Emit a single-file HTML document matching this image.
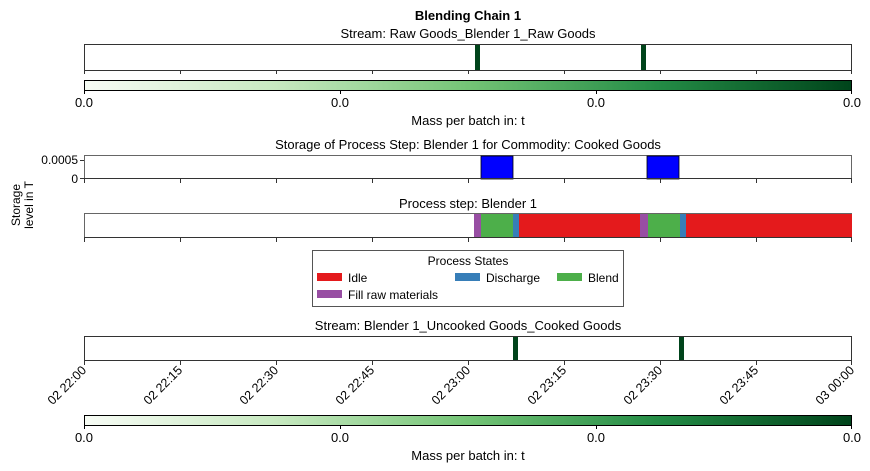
<!DOCTYPE html>
<html><head><meta charset="utf-8"><style>body{margin:0;background:#fff}svg{display:block;font-family:"Liberation Sans",Arial,sans-serif}</style></head><body>
<svg width="870" height="471" viewBox="0 0 870 471" xmlns="http://www.w3.org/2000/svg">
<defs><linearGradient id="g" x1="0" x2="1"><stop offset="0" stop-color="#f7fcf5"/><stop offset="0.25" stop-color="#c7e9c0"/><stop offset="0.5" stop-color="#74c476"/><stop offset="0.75" stop-color="#238b45"/><stop offset="1" stop-color="#00441b"/></linearGradient></defs>
<text x="468" y="20" font-size="13" font-weight="bold" text-anchor="middle">Blending Chain 1</text>
<text x="468" y="38" font-size="13" text-anchor="middle">Stream: Raw Goods_Blender 1_Raw Goods</text>
<rect x="84.5" y="44.5" width="767" height="26" fill="#fff" stroke="#333"/>
<rect x="475" y="45" width="5" height="25" fill="#00441b"/><rect x="641" y="45" width="5" height="25" fill="#00441b"/>
<rect x="84.5" y="80.5" width="767" height="10" fill="url(#g)" stroke="#000"/>
<g stroke="#000"><line x1="84.5" y1="90" x2="84.5" y2="94"/><line x1="340.5" y1="90" x2="340.5" y2="94"/><line x1="596.5" y1="90" x2="596.5" y2="94"/><line x1="851.5" y1="90" x2="851.5" y2="94"/></g>
<g font-size="13" text-anchor="middle"><text x="84" y="107">0.0</text><text x="340" y="107">0.0</text><text x="596" y="107">0.0</text><text x="852" y="107">0.0</text><text x="468" y="125">Mass per batch in: t</text></g>
<text x="468" y="149" font-size="13" text-anchor="middle">Storage of Process Step: Blender 1 for Commodity: Cooked Goods</text>
<rect x="84.5" y="155.5" width="767" height="23" fill="#fff" stroke="#666"/>
<rect x="481" y="156" width="32" height="23" fill="#0000ff" stroke="#000" stroke-width="0.8"/><rect x="647" y="156" width="32" height="23" fill="#0000ff" stroke="#000" stroke-width="0.8"/>
<line x1="84" y1="178.5" x2="852" y2="178.5" stroke="#333"/>
<g stroke="#333"><line x1="80" y1="160.5" x2="84" y2="160.5"/><line x1="80" y1="178.5" x2="84" y2="178.5"/></g>
<g font-size="12" text-anchor="end"><text x="78" y="164">0.0005</text><text x="78" y="183">0</text></g>
<g font-size="12" text-anchor="middle" transform="translate(20,205) rotate(-90)"><text x="0" y="0">Storage</text><text x="0" y="13">level in T</text></g>
<text x="468" y="208" font-size="13" text-anchor="middle">Process step: Blender 1</text>
<rect x="84.5" y="213.5" width="767" height="24" fill="#fff" stroke="#666"/>
<rect x="474" y="214" width="7" height="24" fill="#984ea3"/><rect x="481" y="214" width="32" height="24" fill="#4daf4a"/><rect x="513" y="214" width="6" height="24" fill="#377eb8"/><rect x="519" y="214" width="121" height="24" fill="#e41a1c"/>
<rect x="640" y="214" width="8" height="24" fill="#984ea3"/><rect x="648" y="214" width="32" height="24" fill="#4daf4a"/><rect x="680" y="214" width="6" height="24" fill="#377eb8"/><rect x="686" y="214" width="166" height="24" fill="#e41a1c"/>
<line x1="84" y1="237.5" x2="852" y2="237.5" stroke="#333"/>
<g stroke="#333"><path d="M84.5 70v4M180.5 70v4M276.5 70v4M372.5 70v4M468.5 70v4M564.5 70v4M660.5 70v4M756.5 70v4M851.5 70v4"/><path d="M84.5 179v4M180.5 179v4M276.5 179v4M372.5 179v4M468.5 179v4M564.5 179v4M660.5 179v4M756.5 179v4M851.5 179v4"/><path d="M84.5 238v4M180.5 238v4M276.5 238v4M372.5 238v4M468.5 238v4M564.5 238v4M660.5 238v4M756.5 238v4M851.5 238v4"/><path d="M84.5 360v5M180.5 360v5M276.5 360v5M372.5 360v5M468.5 360v5M564.5 360v5M660.5 360v5M756.5 360v5M851.5 360v5"/></g>
<rect x="312.5" y="250.5" width="311" height="56" fill="#fff" stroke="#555"/>
<g font-size="12"><text x="468" y="265" text-anchor="middle">Process States</text>
<rect x="317" y="273" width="25" height="8" fill="#e41a1c"/><text x="348" y="282">Idle</text>
<rect x="455" y="273" width="25" height="8" fill="#377eb8"/><text x="486" y="282">Discharge</text>
<rect x="557" y="273" width="25" height="8" fill="#4daf4a"/><text x="588" y="282">Blend</text>
<rect x="317" y="290" width="25" height="8" fill="#984ea3"/><text x="348" y="299">Fill raw materials</text></g>
<text x="468" y="330" font-size="13" text-anchor="middle">Stream: Blender 1_Uncooked Goods_Cooked Goods</text>
<rect x="84.5" y="336.5" width="767" height="24" fill="#fff" stroke="#333"/>
<rect x="513" y="337" width="5" height="23" fill="#00441b"/><rect x="679" y="337" width="5" height="23" fill="#00441b"/>
<g font-size="12.5" text-anchor="end">
<text transform="translate(87,371) rotate(-45)">02 22:00</text>
<text transform="translate(183,371) rotate(-45)">02 22:15</text>
<text transform="translate(279,371) rotate(-45)">02 22:30</text>
<text transform="translate(375,371) rotate(-45)">02 22:45</text>
<text transform="translate(471,371) rotate(-45)">02 23:00</text>
<text transform="translate(567,371) rotate(-45)">02 23:15</text>
<text transform="translate(663,371) rotate(-45)">02 23:30</text>
<text transform="translate(759,371) rotate(-45)">02 23:45</text>
<text transform="translate(855,371) rotate(-45)">03 00:00</text></g>
<rect x="84.5" y="415.5" width="767" height="10" fill="url(#g)" stroke="#000"/>
<g stroke="#000"><line x1="84.5" y1="425" x2="84.5" y2="429"/><line x1="340.5" y1="425" x2="340.5" y2="429"/><line x1="596.5" y1="425" x2="596.5" y2="429"/><line x1="851.5" y1="425" x2="851.5" y2="429"/></g>
<g font-size="13" text-anchor="middle"><text x="84" y="442">0.0</text><text x="340" y="442">0.0</text><text x="596" y="442">0.0</text><text x="852" y="442">0.0</text><text x="468" y="460">Mass per batch in: t</text></g>
</svg>
</body></html>
